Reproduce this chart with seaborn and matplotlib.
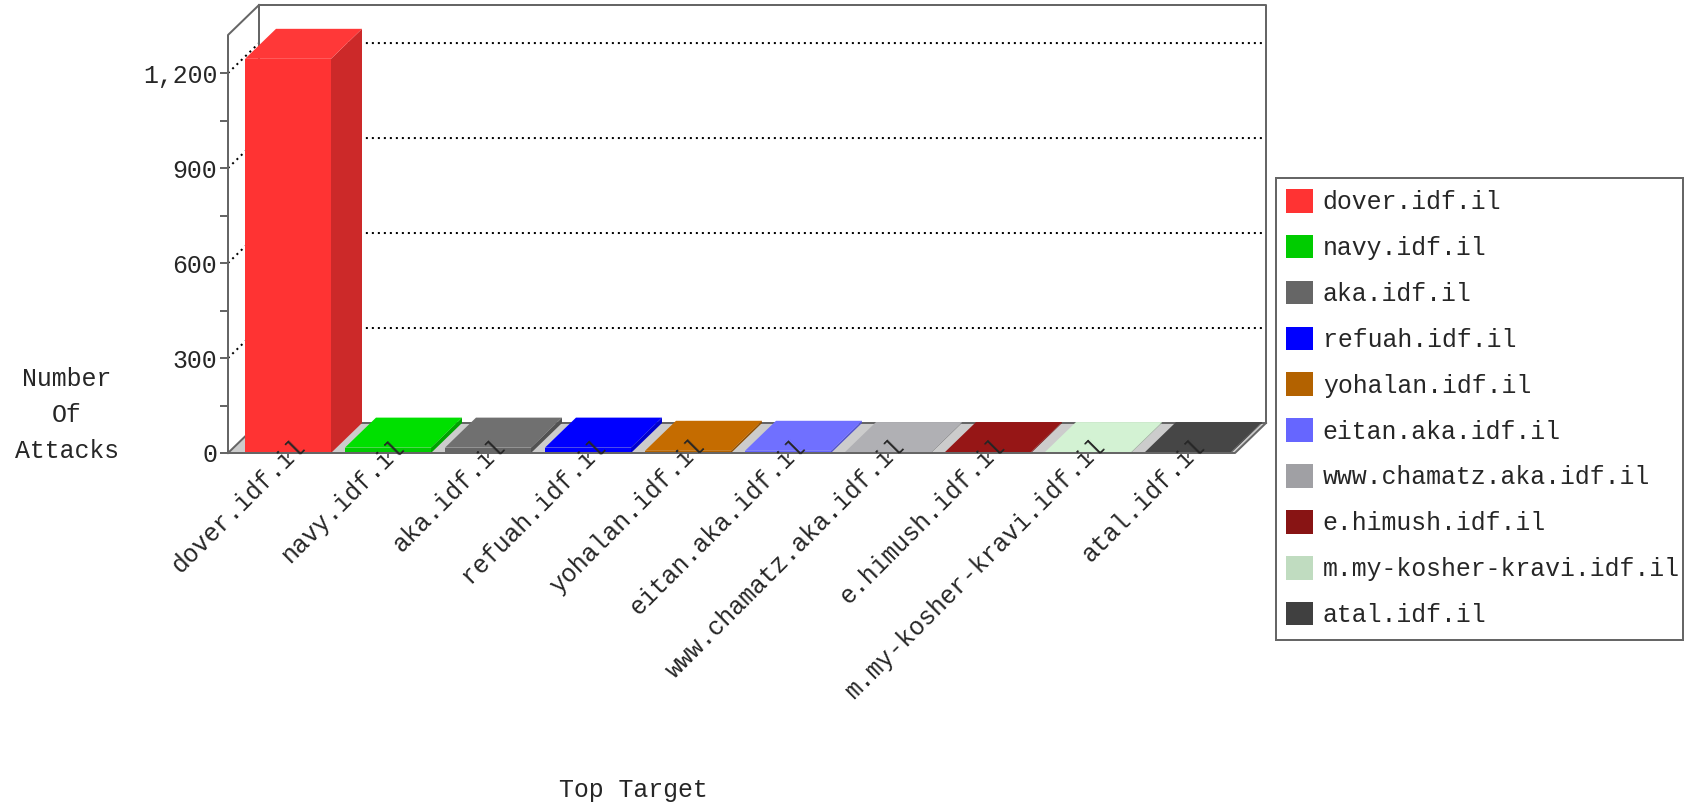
import numpy as np
import pandas as pd
import matplotlib
matplotlib.use('Agg')
import matplotlib.pyplot as plt
import matplotlib.colors as mcolors
from matplotlib.patches import Polygon, Patch, Rectangle
from matplotlib.transforms import ScaledTranslation
from matplotlib.ticker import FuncFormatter
import seaborn as sns

targets = ['dover.idf.il', 'navy.idf.il', 'aka.idf.il', 'refuah.idf.il', 'yohalan.idf.il',
           'eitan.aka.idf.il', 'www.chamatz.aka.idf.il', 'e.himush.idf.il',
           'm.my-kosher-kravi.idf.il', 'atal.idf.il']
attacks = [1245, 17, 17, 17, 7, 7, 3, 3, 3, 3]
colors = ['#FF3333', '#00CC00', '#666666', '#0000FF', '#B36200',
          '#6666FF', '#A0A0A4', '#881414', '#C0DCC0', '#404040']
yticks = [0, 300, 600, 900, 1200]
yminor = [150, 450, 750, 1050]

df = pd.DataFrame({'target': targets, 'attacks': attacks})

sns.set_style('white')
plt.rcParams['font.family'] = ['Liberation Mono', 'DejaVu Sans Mono']
FS = 17.9
EDGE = '#666666'
LW = 1.44  # 2 px

W, H = 1693, 807
fig = plt.figure(figsize=(W / 100, H / 100), dpi=100)
# plot box in pixels: x 228..1266, y 5..453
ax = fig.add_axes([228 / W, 1 - 453 / H, 1038 / W, 448 / H])

XL, XR = -0.6, 9.47
DX = 0.31
YTOP = 1415
DY = 30 / (448 / YTOP)

sns.barplot(data=df, x='target', y='attacks', hue='target', palette=colors,
            width=0.86, legend=False, ax=ax, saturation=1, zorder=5)
ax.set_xlim(XL, XR + DX)
ax.set_ylim(0, YTOP)
for s in ax.spines.values():
    s.set_visible(False)

# floor + back wall
ax.add_patch(Polygon([(XL, 0), (XR, 0), (XR + DX, DY), (XL + DX, DY)],
                     closed=True, fc='#CCCCCC', ec='none', zorder=1, clip_on=False))
kw = dict(color=EDGE, lw=LW, clip_on=False, solid_capstyle='projecting')
ax.plot([XL + DX, XR + DX], [DY, DY], zorder=1.5, **kw)
ax.plot([XL + DX, XL + DX], [DY, YTOP], zorder=1.5, **kw)
ax.plot([XL + DX, XR + DX, XR + DX], [YTOP, YTOP, DY], zorder=1.5, **kw)
ax.plot([XL, XL, XL + DX], [0, YTOP - DY, YTOP], zorder=20, **kw)
ax.plot([XL, XR, XR + DX], [0, 0, DY], zorder=20, **kw)
ax.plot([XL, XL + DX], [0, DY], zorder=1.5, **kw)

# dotted gridlines on back wall and left wall
for v in yticks[1:]:
    ax.plot([XL, XL + DX, XR + DX], [v, v + DY, v + DY], color='black', lw=LW,
            ls=(0, (1, 2)), dash_capstyle='butt', zorder=1.2, clip_on=False)

# 3d faces for each bar
bars = [p for p in ax.patches if isinstance(p, Rectangle) and p.get_width() < 1]
bars = sorted(bars, key=lambda p: p.get_x())
for p, c in zip(bars, colors):
    base = np.array(mcolors.to_rgb(c))
    top_c = np.clip(base * 1.1, 0, 1)
    side_c = base * 0.8
    x0, w, h = p.get_x(), p.get_width(), p.get_height()
    p.set_facecolor(base)
    p.set_edgecolor('none')
    ax.add_patch(Polygon([(x0 + w, 0), (x0 + w + DX, DY), (x0 + w + DX, h + DY), (x0 + w, h)],
                         closed=True, fc=side_c, ec='none', zorder=4, clip_on=False))
    ax.add_patch(Polygon([(x0, h), (x0 + w, h), (x0 + w + DX, h + DY), (x0 + DX, h + DY)],
                         closed=True, fc=top_c, ec='none', zorder=6, clip_on=False))

# y axis
ax.set_yticks(yticks)
ax.set_yticks(yminor, minor=True)
ax.yaxis.set_major_formatter(FuncFormatter(lambda v, _: f'{v:,.0f}'))
ax.tick_params(axis='y', which='both', direction='out', length=5.8, width=LW,
               color=EDGE, left=True, labelsize=FS, pad=2)

# x axis
ax.set_xticks(range(len(targets)))
ax.set_xticklabels(targets, rotation=45, ha='right', va='center', rotation_mode='anchor')
ax.tick_params(axis='x', direction='out', length=3.6, width=LW, color=EDGE,
               bottom=True, labelsize=FS, pad=-11.2)
for lab in ax.get_xticklabels():
    lab.set_transform(lab.get_transform() + ScaledTranslation(0.134, 0, fig.dpi_scale_trans))

ax.set_xlabel('Top Target', fontsize=FS)
ax.xaxis.set_label_coords((633 - 228) / 1038, (453 - 790) / 448)
ax.xaxis.label.set_va('center')
ax.set_ylabel('Number\nOf\nAttacks', fontsize=FS, rotation=0, ha='center', va='center',
              multialignment='center', linespacing=1.65)
ax.yaxis.set_label_coords((67 - 228) / 1038, (453 - 415) / 448)
ax.xaxis.set_zorder(30)

# legend: box drawn at fixed place, entries inside it
fig.patches.append(Rectangle((1276 / W, 1 - 640 / H), 407 / W, 462 / H,
                             transform=fig.transFigure, fc='white', ec=EDGE, lw=LW,
                             zorder=0))
handles = [Patch(fc=c, ec='none') for c in colors]
leg = fig.legend(handles, targets, loc='upper left',
                 bbox_to_anchor=(1286 / W, 1 - 189 / H), bbox_transform=fig.transFigure,
                 fontsize=FS, frameon=False, handlelength=1.08, handleheight=1.08,
                 labelspacing=0.83, handletextpad=0.4, borderpad=0, borderaxespad=0)

fig.savefig('out.png', dpi=100)
